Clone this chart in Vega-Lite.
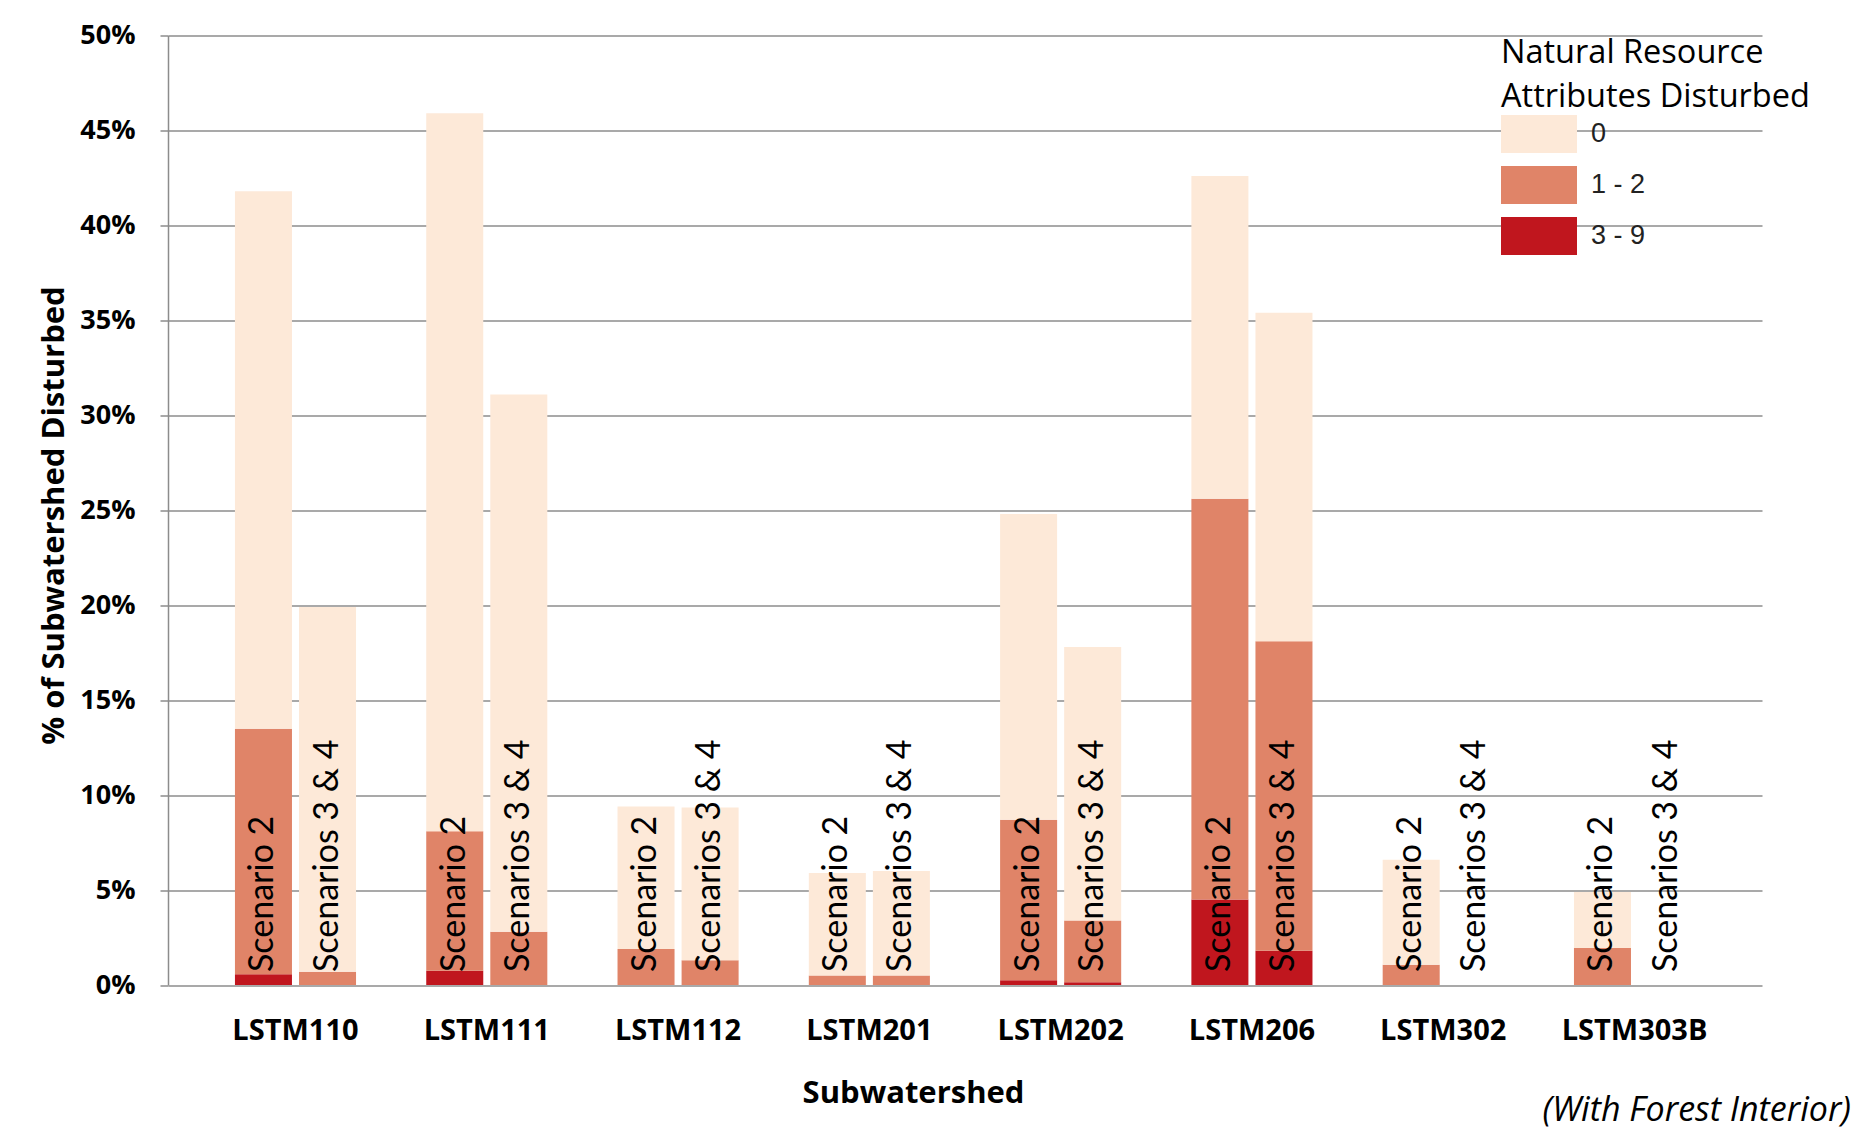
{
  "$schema": "https://vega.github.io/schema/vega-lite/v6.json",
  "width": 1594,
  "height": 949.5,
  "autosize": {"type": "none"},
  "padding": {"left": 168, "top": 35.5, "right": 96, "bottom": 148},
  "background": "white",
  "config": {"view": {"stroke": null}, "font": "Open Sans"},
  "title": {
    "text": "(With Forest Interior)",
    "orient": "bottom",
    "anchor": "end",
    "frame": "group",
    "dx": 89,
    "offset": -14,
    "font": "Open Sans",
    "fontSize": 34,
    "fontStyle": "italic",
    "fontWeight": "normal",
    "color": "black"
  },
  "data": {
    "values": [
      {"subwatershed": "LSTM110", "scenario": "Scenario 2", "attr": "3 - 9", "value": 0.0056},
      {"subwatershed": "LSTM110", "scenario": "Scenario 2", "attr": "1 - 2", "value": 0.1294},
      {"subwatershed": "LSTM110", "scenario": "Scenario 2", "attr": "0", "value": 0.283},
      {"subwatershed": "LSTM110", "scenario": "Scenarios 3 & 4", "attr": "3 - 9", "value": 0},
      {"subwatershed": "LSTM110", "scenario": "Scenarios 3 & 4", "attr": "1 - 2", "value": 0.007},
      {"subwatershed": "LSTM110", "scenario": "Scenarios 3 & 4", "attr": "0", "value": 0.192},
      {"subwatershed": "LSTM111", "scenario": "Scenario 2", "attr": "3 - 9", "value": 0.0075},
      {"subwatershed": "LSTM111", "scenario": "Scenario 2", "attr": "1 - 2", "value": 0.0735},
      {"subwatershed": "LSTM111", "scenario": "Scenario 2", "attr": "0", "value": 0.378},
      {"subwatershed": "LSTM111", "scenario": "Scenarios 3 & 4", "attr": "3 - 9", "value": 0},
      {"subwatershed": "LSTM111", "scenario": "Scenarios 3 & 4", "attr": "1 - 2", "value": 0.028},
      {"subwatershed": "LSTM111", "scenario": "Scenarios 3 & 4", "attr": "0", "value": 0.283},
      {"subwatershed": "LSTM112", "scenario": "Scenario 2", "attr": "3 - 9", "value": 0},
      {"subwatershed": "LSTM112", "scenario": "Scenario 2", "attr": "1 - 2", "value": 0.019},
      {"subwatershed": "LSTM112", "scenario": "Scenario 2", "attr": "0", "value": 0.075},
      {"subwatershed": "LSTM112", "scenario": "Scenarios 3 & 4", "attr": "3 - 9", "value": 0},
      {"subwatershed": "LSTM112", "scenario": "Scenarios 3 & 4", "attr": "1 - 2", "value": 0.013},
      {"subwatershed": "LSTM112", "scenario": "Scenarios 3 & 4", "attr": "0", "value": 0.0805},
      {"subwatershed": "LSTM201", "scenario": "Scenario 2", "attr": "3 - 9", "value": 0},
      {"subwatershed": "LSTM201", "scenario": "Scenario 2", "attr": "1 - 2", "value": 0.005},
      {"subwatershed": "LSTM201", "scenario": "Scenario 2", "attr": "0", "value": 0.054},
      {"subwatershed": "LSTM201", "scenario": "Scenarios 3 & 4", "attr": "3 - 9", "value": 0},
      {"subwatershed": "LSTM201", "scenario": "Scenarios 3 & 4", "attr": "1 - 2", "value": 0.005},
      {"subwatershed": "LSTM201", "scenario": "Scenarios 3 & 4", "attr": "0", "value": 0.055},
      {"subwatershed": "LSTM202", "scenario": "Scenario 2", "attr": "3 - 9", "value": 0.0025},
      {"subwatershed": "LSTM202", "scenario": "Scenario 2", "attr": "1 - 2", "value": 0.0845},
      {"subwatershed": "LSTM202", "scenario": "Scenario 2", "attr": "0", "value": 0.161},
      {"subwatershed": "LSTM202", "scenario": "Scenarios 3 & 4", "attr": "3 - 9", "value": 0.0015},
      {"subwatershed": "LSTM202", "scenario": "Scenarios 3 & 4", "attr": "1 - 2", "value": 0.0325},
      {"subwatershed": "LSTM202", "scenario": "Scenarios 3 & 4", "attr": "0", "value": 0.144},
      {"subwatershed": "LSTM206", "scenario": "Scenario 2", "attr": "3 - 9", "value": 0.045},
      {"subwatershed": "LSTM206", "scenario": "Scenario 2", "attr": "1 - 2", "value": 0.211},
      {"subwatershed": "LSTM206", "scenario": "Scenario 2", "attr": "0", "value": 0.170},
      {"subwatershed": "LSTM206", "scenario": "Scenarios 3 & 4", "attr": "3 - 9", "value": 0.018},
      {"subwatershed": "LSTM206", "scenario": "Scenarios 3 & 4", "attr": "1 - 2", "value": 0.163},
      {"subwatershed": "LSTM206", "scenario": "Scenarios 3 & 4", "attr": "0", "value": 0.173},
      {"subwatershed": "LSTM302", "scenario": "Scenario 2", "attr": "3 - 9", "value": 0},
      {"subwatershed": "LSTM302", "scenario": "Scenario 2", "attr": "1 - 2", "value": 0.0106},
      {"subwatershed": "LSTM302", "scenario": "Scenario 2", "attr": "0", "value": 0.0554},
      {"subwatershed": "LSTM302", "scenario": "Scenarios 3 & 4", "attr": "3 - 9", "value": 0},
      {"subwatershed": "LSTM302", "scenario": "Scenarios 3 & 4", "attr": "1 - 2", "value": 0},
      {"subwatershed": "LSTM302", "scenario": "Scenarios 3 & 4", "attr": "0", "value": 0},
      {"subwatershed": "LSTM303B", "scenario": "Scenario 2", "attr": "3 - 9", "value": 0},
      {"subwatershed": "LSTM303B", "scenario": "Scenario 2", "attr": "1 - 2", "value": 0.0195},
      {"subwatershed": "LSTM303B", "scenario": "Scenario 2", "attr": "0", "value": 0.0295},
      {"subwatershed": "LSTM303B", "scenario": "Scenarios 3 & 4", "attr": "3 - 9", "value": 0},
      {"subwatershed": "LSTM303B", "scenario": "Scenarios 3 & 4", "attr": "1 - 2", "value": 0},
      {"subwatershed": "LSTM303B", "scenario": "Scenarios 3 & 4", "attr": "0", "value": 0}
    ]
  },
  "encoding": {
    "x": {
      "field": "subwatershed",
      "type": "nominal",
      "sort": null,
      "scale": {"paddingInner": 0.367, "paddingOuter": 0.35},
      "axis": {
        "domain": false,
        "ticks": false,
        "grid": false,
        "labelAngle": 0,
        "labelFont": "Open Sans",
        "labelFontWeight": "bold",
        "labelFontSize": 29,
        "labelColor": "black",
        "labelBaseline": "alphabetic",
        "labelPadding": 54,
        "title": "Subwatershed",
        "titleFont": "Open Sans",
        "titleFontWeight": "bold",
        "titleFontSize": 31,
        "titleColor": "black",
        "titleX": 745,
        "titleY": 117,
        "titleAlign": "center",
        "titleBaseline": "alphabetic"
      }
    },
    "xOffset": {
      "field": "scenario",
      "type": "nominal",
      "sort": null,
      "scale": {"paddingInner": 0.11, "paddingOuter": 0}
    }
  },
  "layer": [
    {
      "mark": {"type": "bar"},
      "encoding": {
        "y": {
          "field": "value",
          "type": "quantitative",
          "stack": "zero",
          "scale": {"domain": [0, 0.5], "nice": false},
          "axis": {
            "values": [0, 0.05, 0.1, 0.15, 0.2, 0.25, 0.3, 0.35, 0.4, 0.45, 0.5],
            "format": ".0%",
            "grid": true,
            "gridColor": "#8C8C8C",
            "gridWidth": 1.5,
            "domainColor": "#8C8C8C",
            "domainWidth": 1.5,
            "tickColor": "#8C8C8C",
            "tickWidth": 1.5,
            "tickSize": 8,
            "labelFont": "Open Sans",
            "labelFontWeight": "bold",
            "labelFontSize": 27,
            "labelColor": "black",
            "labelPadding": 25,
            "title": "% of Subwatershed Disturbed",
            "titleFont": "Open Sans",
            "titleFontWeight": "bold",
            "titleFontSize": 31,
            "titleColor": "black",
            "titleAngle": 270,
            "titleX": -105,
            "titleY": 479.5,
            "titleAlign": "center",
            "titleBaseline": "alphabetic"
          }
        },
        "color": {
          "field": "attr",
          "type": "nominal",
          "scale": {
            "domain": ["0", "1 - 2", "3 - 9"],
            "range": ["#FDE9D8", "#E08468", "#C0161E"]
          },
          "legend": {
            "orient": "none",
            "legendX": 1333,
            "legendY": 1,
            "padding": 0,
            "title": ["Natural Resource", "Attributes Disturbed"],
            "titleFont": "Open Sans",
            "titleFontSize": 32.5,
            "titleFontWeight": "normal",
            "titleColor": "black",
            "titleLineHeight": 44,
            "titlePadding": 2,
            "titleLimit": 500,
            "labelFont": "Liberation Sans",
            "labelFontSize": 27,
            "labelColor": "#222222",
            "labelOffset": 52,
            "symbolType": "M-1,-1H3V1H-1Z",
            "symbolSize": 1444,
            "symbolStrokeWidth": 0,
            "symbolOpacity": 1,
            "rowPadding": 13
          }
        },
        "order": {"field": "attr", "sort": "descending"}
      }
    },
    {
      "transform": [{"filter": "datum.attr == '0'"}],
      "mark": {
        "type": "text",
        "angle": 270,
        "align": "left",
        "baseline": "middle",
        "dx": 13,
        "font": "Lato",
        "fontSize": 34,
        "color": "black"
      },
      "encoding": {
        "y": {"datum": 0, "type": "quantitative"},
        "text": {"field": "scenario"}
      }
    }
  ]
}
